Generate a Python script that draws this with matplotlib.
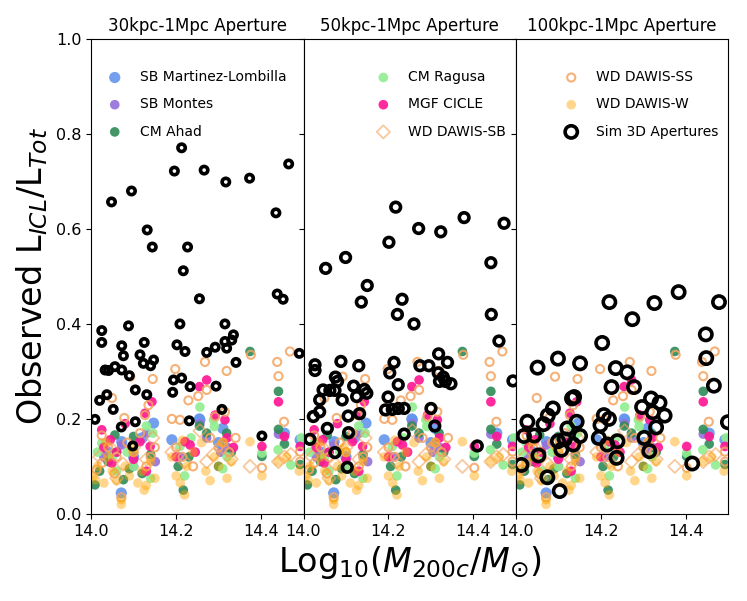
import numpy as np
import matplotlib
matplotlib.use('Agg')
import matplotlib.pyplot as plt

# observational measurements (same in every panel)
ml_x = [14.071, 14.072, 14.04, 14.147, 14.19, 14.255, 14.256, 14.31, 14.455, 14.492, 14.1, 14.3, 14.12]
ml_y = [0.044, 0.152, 0.13, 0.191, 0.156, 0.2, 0.198, 0.18, 0.17, 0.156, 0.12, 0.15, 0.16]

montes_x = [14.072, 14.131, 14.151, 14.256, 14.272, 14.32, 14.441, 14.03, 14.1, 14.305, 14.21]
montes_y = [0.145, 0.17, 0.11, 0.19, 0.16, 0.14, 0.168, 0.12, 0.1, 0.13, 0.12]

ahad_x = [14.009, 14.02, 14.056, 14.076, 14.1, 14.04, 14.14, 14.12, 14.217, 14.205, 14.255, 14.272,
          14.319, 14.3, 14.33, 14.374, 14.402, 14.441, 14.441, 14.455, 14.492, 14.23, 14.09, 14.06]
ahad_y = [0.061, 0.09, 0.166, 0.072, 0.163, 0.11, 0.125, 0.085, 0.05, 0.1, 0.185, 0.17,
          0.17, 0.1, 0.13, 0.342, 0.121, 0.258, 0.178, 0.147, 0.104, 0.12, 0.095, 0.13]

ragusa_x = [14.025, 14.05, 14.085, 14.13, 14.145, 14.1, 14.209, 14.22, 14.256, 14.288, 14.29, 14.32,
            14.402, 14.44, 14.47, 14.495, 14.06, 14.14, 14.235, 14.31, 14.015]
ragusa_y = [0.149, 0.12, 0.13, 0.185, 0.17, 0.1, 0.142, 0.08, 0.225, 0.198, 0.184, 0.12,
            0.128, 0.135, 0.103, 0.16, 0.09, 0.075, 0.16, 0.095, 0.13]

cicle_x = [14.025, 14.045, 14.049, 14.127, 14.143, 14.139, 14.115, 14.08, 14.06, 14.1, 14.221, 14.233, 14.2,
           14.255, 14.272, 14.292, 14.315, 14.32, 14.335, 14.402, 14.441, 14.455, 14.492, 14.03, 14.13, 14.245]
cicle_y = [0.177, 0.156, 0.107, 0.212, 0.236, 0.142, 0.152, 0.19, 0.13, 0.115, 0.152, 0.145, 0.12,
           0.268, 0.282, 0.208, 0.198, 0.16, 0.14, 0.142, 0.236, 0.163, 0.142, 0.14, 0.09, 0.13]

sb_x = [14.02, 14.05, 14.075, 14.1, 14.13, 14.145, 14.19, 14.22, 14.256, 14.272, 14.288, 14.31,
        14.33, 14.374, 14.441, 14.455, 14.47, 14.06]
sb_y = [0.12, 0.135, 0.105, 0.14, 0.115, 0.16, 0.13, 0.11, 0.175, 0.11, 0.125, 0.14,
        0.115, 0.1, 0.11, 0.12, 0.125, 0.075]

ss_x = [14.092, 14.145, 14.198, 14.268, 14.319, 14.376, 14.438, 14.441, 14.468, 14.049, 14.078, 14.127,
        14.135, 14.229, 14.252, 14.272, 14.292, 14.209, 14.315, 14.454, 14.402, 14.492, 14.492, 14.013,
        14.025, 14.025, 14.04, 14.06, 14.071, 14.085, 14.1, 14.115, 14.13, 14.15, 14.19, 14.2, 14.215,
        14.24, 14.28, 14.3, 14.31, 14.325, 14.34, 14.14, 14.055]
ss_y = [0.289, 0.284, 0.305, 0.32, 0.301, 0.335, 0.32, 0.29, 0.342, 0.244, 0.202, 0.208,
        0.229, 0.239, 0.248, 0.261, 0.205, 0.198, 0.215, 0.194, 0.097, 0.131, 0.11, 0.093,
        0.107, 0.165, 0.14, 0.12, 0.035, 0.15, 0.13, 0.17, 0.1, 0.14, 0.2, 0.14, 0.12,
        0.1, 0.16, 0.14, 0.15, 0.13, 0.16, 0.12, 0.085]

w_x = [14.005, 14.01, 14.015, 14.03, 14.04, 14.05, 14.06, 14.071, 14.071, 14.08, 14.09, 14.1, 14.11,
       14.12, 14.13, 14.14, 14.15, 14.19, 14.2, 14.21, 14.22, 14.225, 14.24, 14.26, 14.27, 14.28,
       14.29, 14.3, 14.31, 14.32, 14.33, 14.374, 14.402, 14.44, 14.46, 14.49, 14.035, 14.095, 14.125, 14.215]
w_y = [0.08, 0.072, 0.1, 0.065, 0.12, 0.09, 0.07, 0.03, 0.02, 0.1, 0.08, 0.13, 0.065,
       0.09, 0.06, 0.11, 0.075, 0.12, 0.08, 0.065, 0.04, 0.1, 0.13, 0.15, 0.09, 0.07,
       0.12, 0.1, 0.15, 0.075, 0.11, 0.152, 0.08, 0.11, 0.12, 0.09, 0.15, 0.14, 0.05, 0.155]

# simulated clusters, one set per aperture
sim30_x = [14.025, 14.025, 14.088, 14.072, 14.076, 14.125, 14.115, 14.123, 14.14, 14.147, 14.033, 14.041,
           14.056, 14.072, 14.09, 14.104, 14.131, 14.02, 14.037, 14.052, 14.009, 14.104, 14.071, 14.098,
           14.209, 14.202, 14.221, 14.194, 14.213, 14.233, 14.192, 14.231, 14.272, 14.292, 14.315, 14.319,
           14.335, 14.331, 14.315, 14.341, 14.294, 14.308, 14.402, 14.49,
           14.048, 14.095, 14.213, 14.196, 14.266, 14.317, 14.373, 14.465, 14.435, 14.132, 14.144, 14.227,
           14.217, 14.255, 14.438, 14.452]
sim30_y = [0.386, 0.361, 0.396, 0.354, 0.333, 0.361, 0.335, 0.317, 0.312, 0.324, 0.303, 0.302,
           0.31, 0.303, 0.291, 0.261, 0.251, 0.239, 0.251, 0.22, 0.199, 0.194, 0.183, 0.143,
           0.4, 0.356, 0.342, 0.282, 0.286, 0.268, 0.256, 0.196, 0.34, 0.351, 0.4, 0.349,
           0.377, 0.366, 0.363, 0.319, 0.269, 0.22, 0.164, 0.338,
           0.657, 0.68, 0.771, 0.722, 0.724, 0.699, 0.707, 0.737, 0.634, 0.598, 0.562, 0.562,
           0.512, 0.453, 0.463, 0.452]

sim50_x = [14.052, 14.099, 14.217, 14.201, 14.271, 14.323, 14.378, 14.472, 14.441, 14.15, 14.136, 14.232,
           14.221, 14.26, 14.442, 14.46, 14.493, 14.027, 14.027, 14.088, 14.13, 14.075, 14.08, 14.046,
           14.062, 14.074, 14.038, 14.091, 14.118, 14.125, 14.143, 14.149, 14.023, 14.038, 14.105, 14.132,
           14.056, 14.106, 14.015, 14.074, 14.103, 14.213, 14.203, 14.223, 14.199, 14.193, 14.209, 14.223,
           14.237, 14.237, 14.274, 14.295, 14.318, 14.339, 14.317, 14.329, 14.334, 14.347, 14.32, 14.3,
           14.309, 14.409]
sim50_y = [0.517, 0.54, 0.646, 0.572, 0.601, 0.594, 0.624, 0.612, 0.529, 0.481, 0.446, 0.452,
           0.42, 0.4, 0.42, 0.364, 0.28, 0.314, 0.302, 0.321, 0.312, 0.288, 0.279, 0.261,
           0.26, 0.26, 0.24, 0.24, 0.269, 0.247, 0.262, 0.254, 0.205, 0.215, 0.206, 0.211,
           0.18, 0.171, 0.157, 0.129, 0.098, 0.319, 0.297, 0.272, 0.246, 0.219, 0.22, 0.222,
           0.222, 0.168, 0.312, 0.312, 0.337, 0.319, 0.297, 0.288, 0.279, 0.274, 0.279, 0.222,
           0.185, 0.143]

sim100_x = [14.051, 14.099, 14.151, 14.22, 14.203, 14.274, 14.326, 14.383, 14.478, 14.447, 14.448, 14.466,
            14.499, 14.235, 14.262, 14.225, 14.278, 14.132, 14.137, 14.087, 14.075, 14.027, 14.065, 14.143,
            14.151, 14.121, 14.207, 14.219, 14.199, 14.318, 14.338, 14.35, 14.322, 14.33, 14.297, 14.302,
            14.314, 14.195, 14.215, 14.239, 14.237, 14.019, 14.043, 14.099, 14.115, 14.135, 14.107, 14.053,
            14.013, 14.074, 14.103, 14.415]
sim100_y = [0.308, 0.327, 0.317, 0.446, 0.36, 0.41, 0.444, 0.467, 0.446, 0.378, 0.328, 0.27,
            0.193, 0.307, 0.298, 0.267, 0.267, 0.243, 0.246, 0.222, 0.207, 0.194, 0.189, 0.194,
            0.164, 0.18, 0.208, 0.2, 0.187, 0.243, 0.234, 0.207, 0.214, 0.182, 0.225, 0.16,
            0.132, 0.16, 0.146, 0.153, 0.118, 0.164, 0.165, 0.153, 0.157, 0.146, 0.135, 0.123,
            0.103, 0.077, 0.048, 0.106]

titles = ['30kpc-1Mpc Aperture', '50kpc-1Mpc Aperture', '100kpc-1Mpc Aperture']
sims = [(sim30_x, sim30_y, 28), (sim50_x, sim50_y, 48), (sim100_x, sim100_y, 78)]

fig, axes = plt.subplots(1, 3, sharey=True, figsize=(7.47, 6.01), dpi=100)
plt.subplots_adjust(left=0.122, right=0.975, bottom=0.145, top=0.935, wspace=0)

leg_kw = dict(frameon=False, fontsize=10, labelspacing=0.95, borderaxespad=0.3)

for i, ax in enumerate(axes):
    h = []
    h.append(ax.scatter(ml_x, ml_y, s=65, c='cornflowerblue', alpha=0.9, edgecolors='none',
                        label='SB Martinez-Lombilla'))
    h.append(ax.scatter(montes_x, montes_y, s=48, c='mediumpurple', alpha=0.9, edgecolors='none',
                        label='SB Montes'))
    h.append(ax.scatter(ahad_x, ahad_y, s=48, c='seagreen', alpha=0.9, edgecolors='none',
                        label='CM Ahad'))
    h.append(ax.scatter(ragusa_x, ragusa_y, s=48, c='lightgreen', alpha=0.9, edgecolors='none',
                        label='CM Ragusa'))
    h.append(ax.scatter(cicle_x, cicle_y, s=48, c='deeppink', alpha=0.9, edgecolors='none',
                        label='MGF CICLE'))
    h.append(ax.scatter(sb_x, sb_y, s=45, marker='D', facecolors='none', edgecolors='sandybrown',
                        alpha=0.6, linewidths=1.3, label='WD DAWIS-SB'))
    h.append(ax.scatter(ss_x, ss_y, s=34, facecolors='none', edgecolors='sandybrown',
                        alpha=0.85, linewidths=1.5, label='WD DAWIS-SS'))
    h.append(ax.scatter(w_x, w_y, s=48, c='orange', alpha=0.45, edgecolors='none',
                        label='WD DAWIS-W'))
    sx, sy, ss = sims[i]
    h.append(ax.scatter(sx, sy, s=ss, facecolors='none', edgecolors='k', linewidths=2.6,
                        label='Sim 3D Apertures', zorder=3))

    ax.set_title(titles[i], fontsize=12)
    ax.set_xlim(14.0, 14.5)
    ax.set_xticks([14.0, 14.2, 14.4])
    ax.tick_params(labelsize=11.5)
    if i == 0:
        ax.legend(handles=h[0:3], loc='upper left', bbox_to_anchor=(0, 0.955), **leg_kw)
    elif i == 1:
        ax.legend(handles=h[3:6], loc='upper right', bbox_to_anchor=(1, 0.955), **leg_kw)
    else:
        leg_h = [h[6], h[7], axes[0].scatter([], [], s=78, facecolors='none', edgecolors='k',
                                              linewidths=2.6, label='Sim 3D Apertures')]
        ax.legend(handles=leg_h, loc='upper right', bbox_to_anchor=(1, 0.955), **leg_kw)

axes[0].set_ylim(0, 1)
axes[0].set_ylabel('Observed L$_{ICL}$/L$_{Tot}$', fontsize=24)
axes[1].set_xlabel(r'Log$_{10}$($M_{200c}/M_{\odot}$)', fontsize=24)

plt.savefig('out.png', dpi=100)
